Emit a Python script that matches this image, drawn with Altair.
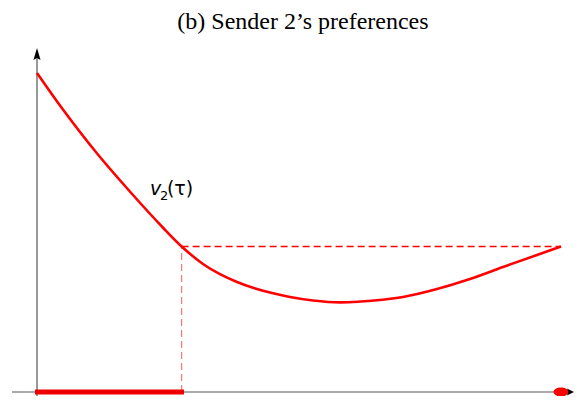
import altair as alt
import pandas as pd

# curve v2(tau)
curve_tau = [0.0, 0.0502, 0.1139, 0.1781, 0.2410, 0.2760, 0.3168, 0.3492, 0.3817, 0.4122, 0.4447,
             0.4828, 0.5267, 0.5782, 0.6546, 0.6985, 0.7634, 0.8263, 0.8893, 0.9542, 1.0]
curve_v = [3.19, 2.82, 2.39, 2.00, 1.64, 1.455, 1.28, 1.178, 1.10, 1.042, 0.994,
           0.95, 0.915, 0.896, 0.92, 0.95, 1.03, 1.13, 1.25, 1.37, 1.455]

tau_star = 0.276
v_star = 1.455
tau_end = 1.0

title_text = "(b) Sender 2\u2019s preferences"
label_v = "v"
label_sub = "2"
label_arg = "(\u03c4)"

X_DOM = [-0.05534, 1.02481]
Y_DOM = [-0.04, 3.84]


def X(field="x"):
    return alt.X(f"{field}:Q", scale=alt.Scale(domain=X_DOM, nice=False, zero=False), axis=None)


def Y(field="y"):
    return alt.Y(f"{field}:Q", scale=alt.Scale(domain=Y_DOM, nice=False, zero=False), axis=None)


curve_df = pd.DataFrame({"x": curve_tau, "y": curve_v})

axes_df = pd.DataFrame({
    "x": [-0.0477, 0.0],
    "x2": [1.0134, 0.0],
    "y": [0.0, -0.04],
    "y2": [0.0, 3.36],
})

bar_df = pd.DataFrame({"x": [-0.0038], "x2": [0.2805], "y": [0.0], "y2": [0.0]})

hdash_df = pd.DataFrame({"x": [tau_star], "x2": [tau_end], "y": [v_star], "y2": [v_star]})
vdash_df = pd.DataFrame({"x": [tau_star], "x2": [tau_star], "y": [0.0], "y2": [v_star]})

dot_df = pd.DataFrame({"x": [tau_end], "y": [0.0]})
rarrow_df = pd.DataFrame({"x": [1.0181], "y": [0.0]})
uarrow_df = pd.DataFrame({"x": [0.0], "y": [3.375]})

title_df = pd.DataFrame({"x": [0.5076], "y": [3.63], "t": [title_text]})
lv_df = pd.DataFrame({"x": [0.2157], "y": [1.97], "t": [label_v]})
ls_df = pd.DataFrame({"x": [0.2347], "y": [1.92], "t": [label_sub]})
la_df = pd.DataFrame({"x": [0.2480], "y": [1.97], "t": [label_arg]})

axes = alt.Chart(axes_df).mark_rule(color="#555555", stroke="#555555", strokeWidth=1.2).encode(
    x=X(), x2="x2:Q", y=Y(), y2="y2:Q")

bar = alt.Chart(bar_df).mark_rule(color="#ee0000", stroke="#ee0000", strokeWidth=5, strokeCap="butt").encode(
    x=X(), x2="x2:Q", y=Y(), y2="y2:Q")

hdash = alt.Chart(hdash_df).mark_rule(color="#ff0000", stroke="#ff0000", strokeWidth=1.3, strokeDash=[7, 4]).encode(
    x=X(), x2="x2:Q", y=Y(), y2="y2:Q")
vdash = alt.Chart(vdash_df).mark_rule(color="#ff0000", stroke="#ff0000", strokeWidth=1.2, opacity=0.55, strokeDash=[7, 4]).encode(
    x=X(), x2="x2:Q", y=Y(), y2="y2:Q")

curve = alt.Chart(curve_df).mark_line(color="#ff0000", strokeWidth=2.6, interpolate="catmull-rom").encode(
    x=X(), y=Y())

dot = alt.Chart(dot_df).mark_point(
    shape="M-1,0 A1,0.6 0 1,0 1,0 A1,0.6 0 1,0 -1,0 Z",
    size=225, filled=True, color="#ff0000", opacity=1).encode(x=X(), y=Y())

rarrow = alt.Chart(rarrow_df).mark_point(
    shape="M1,0 L-1,-1 L-0.6,0 L-1,1 Z",
    size=49, filled=True, color="#000000", opacity=1).encode(x=X(), y=Y())

uarrow = alt.Chart(uarrow_df).mark_point(
    shape="M0,-1 L0.55,0.85 L0,0.55 L-0.55,0.85 Z",
    size=169, filled=True, color="#000000", opacity=1).encode(x=X(), y=Y())

title = alt.Chart(title_df).mark_text(
    font="Liberation Serif", fontSize=24, align="center", baseline="alphabetic", color="#000000").encode(
    x=X(), y=Y(), text="t:N")

lv = alt.Chart(lv_df).mark_text(
    font="DejaVu Sans", fontSize=19, fontStyle="italic", align="left", baseline="alphabetic", color="#000000").encode(
    x=X(), y=Y(), text="t:N")
ls = alt.Chart(ls_df).mark_text(
    font="DejaVu Sans", fontSize=13, align="left", baseline="alphabetic", color="#000000").encode(
    x=X(), y=Y(), text="t:N")
la = alt.Chart(la_df).mark_text(
    font="DejaVu Sans", fontSize=19, align="left", baseline="alphabetic", color="#000000").encode(
    x=X(), y=Y(), text="t:N")

chart = alt.layer(
    axes, vdash, hdash, bar, curve, dot, rarrow, uarrow, title, lv, ls, la
).properties(
    width=566, height=388,
    autosize=alt.AutoSizeParams(type="none"),
    padding=0,
).configure_view(stroke=None)

chart.save("out.html", embed_options={"renderer": "svg", "actions": False})
